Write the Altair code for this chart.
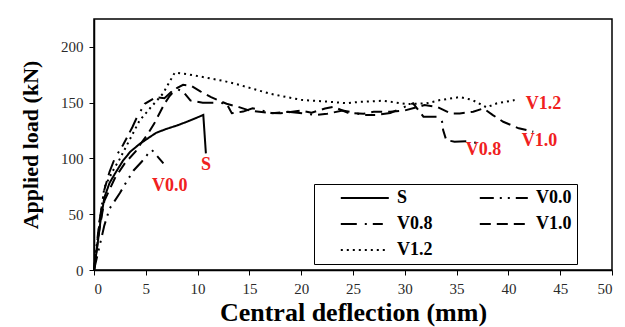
import altair as alt
import pandas as pd

# ---------------- data ----------------
S_x = [0, 0.3, 0.6, 1.0, 1.5, 2.0, 2.8, 3.5, 4.4, 5.2, 6.0, 7.0, 8.0, 9.0, 10.3, 10.55, 10.8]
S_y = [0, 20, 42, 65, 78, 86, 98, 106, 113, 118, 123, 126.5, 129.5, 133, 138, 139, 104.5]

V00_x = [0, 0.5, 1.0, 1.5, 2.0, 2.5, 3.0, 3.8, 4.6, 5.2, 5.6, 6.2, 6.7]
V00_y = [0, 20, 40, 55, 62, 69, 77, 89, 97, 104, 107.5, 101, 95.5]

V08_x = [0, 0.5, 1.0, 1.5, 2.0, 2.8, 3.7, 4.1, 4.9, 6.0, 6.8, 7.5, 7.8, 8.6, 9.3, 10.5, 12.0, 12.8,
         13.3, 14.4, 15.3, 17.2, 18.7, 20.5, 21.5, 22.5, 24.0, 24.7, 26.0, 27.3, 28.6, 30.8, 31.8,
         33.4, 33.6, 33.7, 34.0, 34.8, 36.0, 36.9, 37.3]
V08_y = [0, 42, 72, 88, 100, 112, 128, 136, 149, 155, 154, 160, 163, 160, 152, 150, 150, 149,
         140.5, 142, 145, 140.5, 141.8, 140, 139, 140, 143, 141.8, 139, 139, 140.8, 149.4, 137.4,
         137.4, 132.9, 125.4, 116.5, 115, 115.5, 114, 115]

V10_x = [0, 0.5, 1.0, 2.0, 3.0, 4.0, 4.5, 5.2, 5.8, 6.3, 6.8, 7.3, 8.0, 8.6, 9.4, 10.3, 11.3, 12.0,
         12.8, 14.0, 15.0, 16.7, 18.0, 20.0, 21.0, 22.3, 23.1, 24.5, 26.0, 27.0, 28.6, 30.0, 31.9,
         33.1, 34.4, 35.3, 36.6, 37.6, 38.5, 39.5, 41.0, 42.4]
V10_y = [0, 35, 62, 82, 96, 106, 113, 122, 131, 140, 149, 156, 163, 166, 165, 160, 155, 152,
         149, 146, 143, 141, 140.5, 143, 141, 144.8, 146.3, 141, 140, 141.8, 141.8, 143, 147.8,
         146.3, 140.4, 140.4, 141.8, 144.9, 138.9, 132.9, 127, 124]

V12_x = [0, 0.5, 1.0, 2.0, 2.4, 3.4, 4.4, 5.5, 6.65, 7.8, 9.0, 10.5, 12.5, 14.0, 15.5, 17.0, 18.6,
         20.0, 22.5, 24.4, 25.7, 27.9, 30.2, 32.1, 33.4, 35.3, 36.5, 37.9, 38.9, 40.6]
V12_y = [0, 40, 74, 92, 98, 116, 134, 146, 158, 177, 175.5, 173, 169.5, 166, 162, 158, 155,
         152.5, 151, 149.5, 150.8, 151.7, 148.7, 149.4, 152.3, 155, 152.5, 145.8, 149.4, 152.3]

series_names = ["S", "V0.0", "V0.8", "V1.0", "V1.2"]
series_dash = [[1, 0], [14, 6, 2, 6, 2, 6], [16, 8, 2, 6, 10, 6], [11, 6], [2, 4]]

label_text = ["S", "V0.0", "V0.8", "V1.0", "V1.2"]
label_x = [10.8, 7.3, 37.6, 43.0, 43.4]
label_y = [94, 75, 107.5, 115.6, 148.7]

x_ticks = [i * 2.5 for i in range(21)]
y_ticks = [i * 12.5 for i in range(19)]

# ---------------- build table ----------------
rows = []
for name, xs, ys in zip(series_names,
                        [S_x, V00_x, V08_x, V10_x, V12_x],
                        [S_y, V00_y, V08_y, V10_y, V12_y]):
    for i, (x, y) in enumerate(zip(xs, ys)):
        rows.append({"series": name, "x": x, "y": y, "i": i})
df = pd.DataFrame(rows)
labels = pd.DataFrame({"text": label_text, "x": label_x, "y": label_y})

FONT = "Liberation Serif"

x_enc = alt.X("x:Q", scale=alt.Scale(domain=[0, 50], nice=False),
              axis=alt.Axis(values=x_ticks, title="Central deflection (mm)",
                            labelFont=FONT, labelFontSize=15, labelColor="#2a2a2a",
                            labelExpr="datum.value % 5 === 0 ? datum.label : ''"))
y_enc = alt.Y("y:Q", scale=alt.Scale(domain=[0, 225], nice=False),
              axis=alt.Axis(values=y_ticks, title="Applied load (kN)",
                            labelFont=FONT, labelFontSize=15, labelColor="#2a2a2a",
                            labelExpr="datum.value % 25 === 0 ? datum.label : ''"))

lines = alt.Chart(df).mark_line(color="black", strokeWidth=2).encode(
    x=x_enc,
    y=y_enc,
    order="i:Q",
    strokeDash=alt.StrokeDash(
        "series:N",
        scale=alt.Scale(domain=series_names, range=series_dash),
        legend=alt.Legend(
            title=None, orient="none", legendX=220, legendY=165,
            direction="horizontal",
            columns=2, columnPadding=25, rowPadding=8, padding=5,
            strokeColor="black", fillColor="white",
            symbolType="M1.6,0H7.6", symbolSize=256, symbolStrokeWidth=2,
            symbolStrokeColor="black", symbolFillColor="transparent",
            labelFont=FONT, labelFontSize=18, labelFontWeight="bold",
            labelColor="black", labelOffset=60,
        ),
    ),
)

text = alt.Chart(labels).mark_text(
    font=FONT, fontSize=18, fontWeight="bold", color="#f02020",
    align="center", baseline="middle"
).encode(x="x:Q", y="y:Q", text="text:N")

chart = (lines + text).properties(
    width=518, height=251,
    autosize=alt.AutoSizeParams(type="none"),
    padding={"left": 94, "top": 19, "right": 13, "bottom": 57},
    background="white",
).configure_view(
    stroke="black", strokeWidth=1.5
).configure_axis(
    grid=False, domainColor="black", domainWidth=1.5,
    tickColor="black", tickSize=5, tickWidth=1,
    labelPadding=6,
    titleFont=FONT, titleFontWeight="bold", titleColor="black",
).configure_axisX(
    titleFontSize=26, titlePadding=3
).configure_axisY(
    titleFontSize=22, titlePadding=18
)

chart.save("out.html", embed_options={"renderer": "svg", "actions": False})
